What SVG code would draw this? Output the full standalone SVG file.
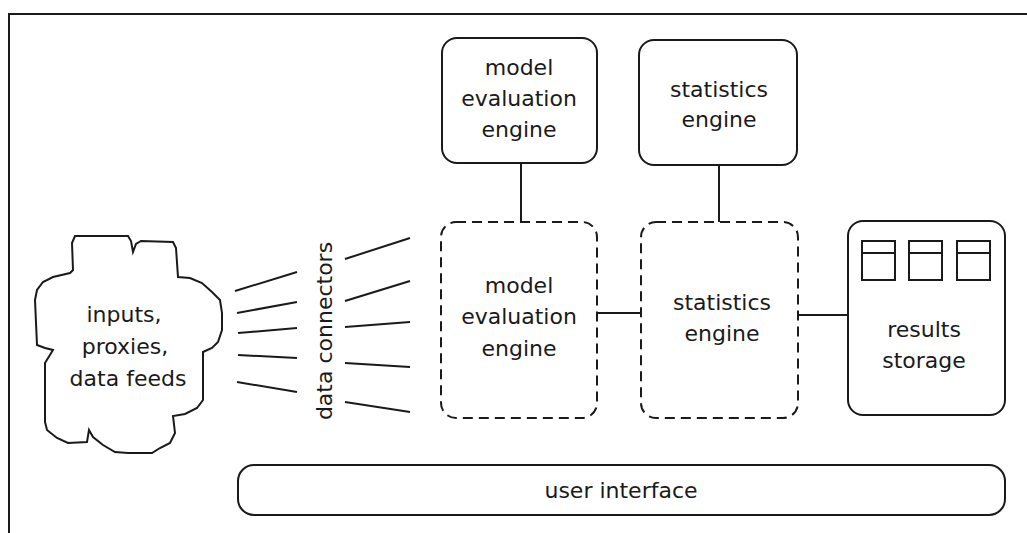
<svg xmlns="http://www.w3.org/2000/svg" width="1027" height="533" viewBox="0 0 1027 533">
  <style>
    .box { fill: #fff; stroke: #1a1a1a; stroke-width: 2; }
    .dash { fill: #fff; stroke: #1a1a1a; stroke-width: 2; stroke-dasharray: 10 6; }
    .ln { fill: none; stroke: #1a1a1a; stroke-width: 2; }
    .lbl { font-family: "DejaVu Sans", "Liberation Sans", sans-serif; font-size: 22px; fill: #1a1a1a; text-anchor: middle; }
  </style>
  <rect width="1027" height="533" fill="#fff"/>

  <!-- frame -->
  <g id="frame">
    <path class="ln" d="M9,533 V14 H1027" stroke-width="2.5"/>
  </g>

  <!-- connectors -->
  <g id="connectors">
    <path class="ln" d="M521,163 V222"/>
    <path class="ln" d="M719,165 V222"/>
    <path class="ln" d="M597,313 H641"/>
    <path class="ln" d="M798,315 H848"/>
    <!-- data connector strokes, source side -->
    <path class="ln" d="M235,291 L297,272"/>
    <path class="ln" d="M237,313 L297,302"/>
    <path class="ln" d="M238,333 L297,328"/>
    <path class="ln" d="M238,355 L297,358"/>
    <path class="ln" d="M237,382 L297,392"/>
    <!-- data connector strokes, engine side -->
    <path class="ln" d="M345,259 L410,238"/>
    <path class="ln" d="M345,301 L410,281"/>
    <path class="ln" d="M345,327 L410,322"/>
    <path class="ln" d="M345,363 L410,367"/>
    <path class="ln" d="M345,402 L410,412"/>
  </g>

  <g id="data-connectors-label">
    <text class="lbl" transform="translate(332,331) rotate(-90)">data connectors</text>
  </g>

  <g id="inputs">
    <path class="ln" d="M75,236 L128,236 L131,241 L133,252 L136,244 L141,241 L173,242 L176,248 L178,277 L190,278 L202,283 L212,292 L220,300 L222,313 L222,330 L218,342 L212,348 L203,352 L203,400 L197,408 L185,414 L173,416 L175,433 L170,443 L160,448 L152,453 L128,453 L115,452 L103,445 L93,437 L89,430 L87,442 L68,443 L57,438 L47,430 L45,422 L45,363 L53,350 L45,348 L37,345 L35,300 L37,290 L43,282 L53,277 L70,273 L73,270 L72,243 Z"/>
    <text class="lbl" x="124" y="322">inputs,</text>
    <text class="lbl" x="125" y="354">proxies,</text>
    <text class="lbl" x="128" y="386">data feeds</text>
  </g>

  <g id="model-engine-top">
    <rect class="box" x="442" y="38" width="155" height="125" rx="15"/>
    <text class="lbl" x="519" y="75">model</text>
    <text class="lbl" x="519" y="106">evaluation</text>
    <text class="lbl" x="519" y="137">engine</text>
  </g>

  <g id="stats-engine-top">
    <rect class="box" x="639" y="40" width="158" height="125" rx="15"/>
    <text class="lbl" x="719" y="97">statistics</text>
    <text class="lbl" x="719" y="127">engine</text>
  </g>

  <g id="model-engine">
    <rect class="dash" x="441" y="222" width="156" height="196" rx="15"/>
    <text class="lbl" x="519" y="293">model</text>
    <text class="lbl" x="519" y="324">evaluation</text>
    <text class="lbl" x="519" y="356">engine</text>
  </g>

  <g id="stats-engine">
    <rect class="dash" x="641" y="222" width="157" height="196" rx="15"/>
    <text class="lbl" x="722" y="310">statistics</text>
    <text class="lbl" x="722" y="341">engine</text>
  </g>

  <g id="results-storage">
    <rect class="box" x="848" y="221" width="157" height="194" rx="15"/>
    <rect class="box" x="862" y="241" width="33" height="39"/>
    <rect class="box" x="909" y="241" width="33" height="39"/>
    <rect class="box" x="957" y="241" width="33" height="39"/>
    <path class="ln" d="M862,253 H895 M909,253 H942 M957,253 H990"/>
    <text class="lbl" x="924" y="337">results</text>
    <text class="lbl" x="924" y="368">storage</text>
  </g>

  <g id="user-interface">
    <rect class="box" x="238" y="465" width="767" height="50" rx="16"/>
    <text class="lbl" x="621" y="498">user interface</text>
  </g>
</svg>
